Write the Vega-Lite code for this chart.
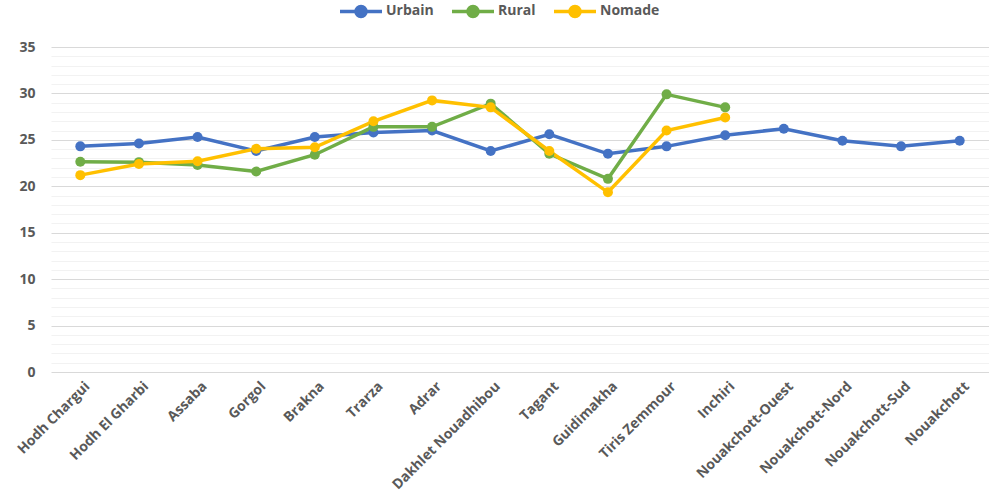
{
  "$schema": "https://vega.github.io/schema/vega-lite/v6.json",
  "width": 938,
  "height": 325,
  "autosize": "none",
  "padding": {"left": 51, "top": 47, "right": 0, "bottom": 123},
  "background": "white",
  "config": {
    "view": {"stroke": null},
    "font": "Open Sans"
  },
  "data": {
    "values": [
      {"region": "Hodh Chargui", "type": "Urbain", "value": 24.3},
      {"region": "Hodh El Gharbi", "type": "Urbain", "value": 24.6},
      {"region": "Assaba", "type": "Urbain", "value": 25.3},
      {"region": "Gorgol", "type": "Urbain", "value": 23.8},
      {"region": "Brakna", "type": "Urbain", "value": 25.3},
      {"region": "Trarza", "type": "Urbain", "value": 25.8},
      {"region": "Adrar", "type": "Urbain", "value": 26.0},
      {"region": "Dakhlet Nouadhibou", "type": "Urbain", "value": 23.8},
      {"region": "Tagant", "type": "Urbain", "value": 25.6},
      {"region": "Guidimakha", "type": "Urbain", "value": 23.5},
      {"region": "Tiris Zemmour", "type": "Urbain", "value": 24.3},
      {"region": "Inchiri", "type": "Urbain", "value": 25.5},
      {"region": "Nouakchott-Ouest", "type": "Urbain", "value": 26.2},
      {"region": "Nouakchott-Nord", "type": "Urbain", "value": 24.9},
      {"region": "Nouakchott-Sud", "type": "Urbain", "value": 24.3},
      {"region": "Nouakchott", "type": "Urbain", "value": 24.9},
      {"region": "Hodh Chargui", "type": "Rural", "value": 22.65},
      {"region": "Hodh El Gharbi", "type": "Rural", "value": 22.6},
      {"region": "Assaba", "type": "Rural", "value": 22.3},
      {"region": "Gorgol", "type": "Rural", "value": 21.6},
      {"region": "Brakna", "type": "Rural", "value": 23.4},
      {"region": "Trarza", "type": "Rural", "value": 26.4},
      {"region": "Adrar", "type": "Rural", "value": 26.4},
      {"region": "Dakhlet Nouadhibou", "type": "Rural", "value": 28.9},
      {"region": "Tagant", "type": "Rural", "value": 23.5},
      {"region": "Guidimakha", "type": "Rural", "value": 20.8},
      {"region": "Tiris Zemmour", "type": "Rural", "value": 29.9},
      {"region": "Inchiri", "type": "Rural", "value": 28.5},
      {"region": "Hodh Chargui", "type": "Nomade", "value": 21.2},
      {"region": "Hodh El Gharbi", "type": "Nomade", "value": 22.4},
      {"region": "Assaba", "type": "Nomade", "value": 22.7},
      {"region": "Gorgol", "type": "Nomade", "value": 24.05},
      {"region": "Brakna", "type": "Nomade", "value": 24.2},
      {"region": "Trarza", "type": "Nomade", "value": 27.0},
      {"region": "Adrar", "type": "Nomade", "value": 29.25},
      {"region": "Dakhlet Nouadhibou", "type": "Nomade", "value": 28.5},
      {"region": "Tagant", "type": "Nomade", "value": 23.8},
      {"region": "Guidimakha", "type": "Nomade", "value": 19.35},
      {"region": "Tiris Zemmour", "type": "Nomade", "value": 26.0},
      {"region": "Inchiri", "type": "Nomade", "value": 27.4}
    ]
  },
  "mark": {
    "type": "line",
    "strokeWidth": 3.5,
    "point": {"filled": true, "size": 100, "opacity": 1}
  },
  "encoding": {
    "x": {
      "field": "region",
      "type": "nominal",
      "sort": null,
      "scale": {"type": "point", "padding": 0.5},
      "axis": {
        "title": null,
        "labelAngle": -45,
        "labelAlign": "right",
        "labelBaseline": "top",
        "labelFont": "Open Sans",
        "labelFontWeight": "bold",
        "labelFontSize": 14,
        "labelColor": "#595959",
        "labelPadding": 7,
        "labelOffset": 2,
        "domain": false,
        "ticks": false,
        "grid": false
      }
    },
    "y": {
      "field": "value",
      "type": "quantitative",
      "scale": {"domain": [0, 35], "nice": false, "zero": true},
      "axis": {
        "title": null,
        "values": [0,1,2,3,4,5,6,7,8,9,10,11,12,13,14,15,16,17,18,19,20,21,22,23,24,25,26,27,28,29,30,31,32,33,34,35],
        "labelExpr": "datum.value % 5 === 0 ? datum.label : ''",
        "labelFont": "Open Sans",
        "labelFontWeight": "bold",
        "labelFontSize": 14,
        "labelColor": "#595959",
        "labelPadding": 16,
        "domain": false,
        "ticks": false,
        "grid": true,
        "gridColor": {"condition": {"test": "datum.value % 5 === 0", "value": "#d9d9d9"}, "value": "#f2f2f2"},
        "gridWidth": 1.2
      }
    },
    "color": {
      "field": "type",
      "type": "nominal",
      "scale": {"domain": ["Urbain", "Rural", "Nomade"], "range": ["#4472C4", "#70AD47", "#FFC000"]},
      "legend": {
        "title": null,
        "orient": "none",
        "direction": "horizontal",
        "legendX": 287,
        "legendY": -59,
        "symbolType": "M-1,0H1M-0.24,0A0.24,0.24 0 1,1 0.24,0A0.24,0.24 0 1,1 -0.24,0",
        "symbolSize": 1764,
        "symbolStrokeWidth": 3.5,
        "labelFont": "Open Sans",
        "labelFontWeight": "bold",
        "labelFontSize": 14,
        "labelColor": "#595959",
        "labelOffset": 2,
        "columnPadding": 11,
        "encode": {
          "symbols": {
            "update": {
              "fill": {"scale": "color", "field": "value"},
              "stroke": {"scale": "color", "field": "value"},
              "opacity": {"value": 1}
            }
          }
        }
      }
    }
  }
}
